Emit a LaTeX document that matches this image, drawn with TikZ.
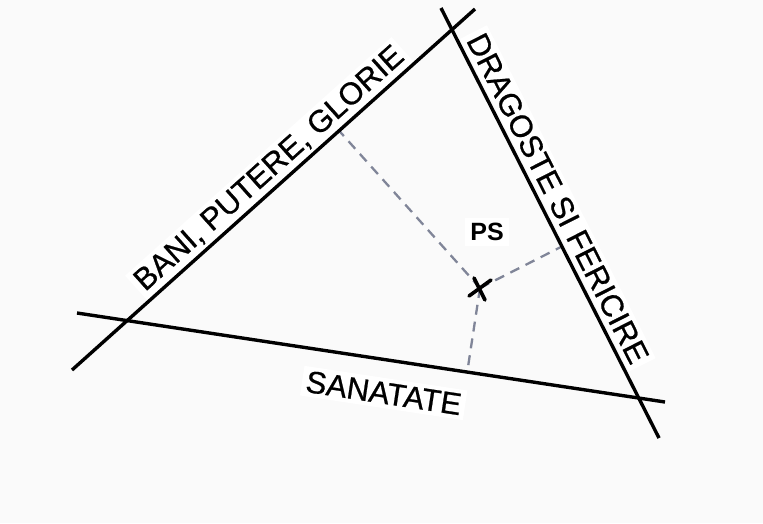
\documentclass[tikz,border=0pt]{standalone}
\usepackage{fontspec}
\setmainfont{Liberation Sans}
\newfontfamily\lblfont[FakeBold=0.7]{Liberation Sans}
\usetikzlibrary{calc}
\definecolor{bgc}{RGB}{250,250,250}
\definecolor{dashc}{RGB}{128,133,152}
\tikzset{
 mainline/.style={line width=3.4pt, black},
 perpline/.style={line width=2.3pt, dashc, dash pattern=on 10pt off 7pt},
 lbl/.style={font=\lblfont\fontsize{31}{36}\selectfont, inner sep=4pt, fill=white, sloped},
 crossmark/.style={line width=3.6pt, black, line cap=round},
 pslabel/.style={font=\bfseries\fontsize{25}{29}\selectfont, fill=white, inner sep=5pt},
}
\begin{document}
\begin{tikzpicture}[x=1pt,y=-1pt]
\fill[bgc] (0,0) rectangle (763,523);
\useasboundingbox (0,0) rectangle (763,523);
\coordinate (A1) at (72,370);
\coordinate (A2) at (475,9);
\coordinate (B1) at (441,8);
\coordinate (B2) at (659,438);
\coordinate (C1) at (77,313);
\coordinate (C2) at (665,402);
\coordinate (X) at (480,288);
% labels
\path (A1) -- (A2) node[lbl, pos=0.52, above, yshift=1pt] (la) {BANI, PUTERE, GLORIE};
\path (B1) -- (B2) node[lbl, pos=0.462, above, yshift=3pt] (lb) {DRAGOSTE SI FERICIRE};
\path (C1) -- (C2) node[lbl, pos=0.53, below, yshift=-18pt] (lc) {SANATATE};
\node[pslabel] (ps) at (487,232) {PS};
% perpendicular feet
\coordinate (FA) at ($(A1)!(X)!(A2)$);
\coordinate (FB) at ($(B1)!(X)!(B2)$);
\coordinate (FC) at ($(C1)!(X)!(C2)$);
\draw[perpline] (X) -- (FA);
\draw[perpline] (X) -- (FB);
\draw[perpline] (X) -- (FC);
% main lines
\draw[mainline] (A1) -- (A2);
\draw[mainline] (B1) -- (B2);
\draw[mainline] (C1) -- (C2);
% cross mark
\draw[crossmark] ($(X)+(-11,8)$) -- ($(X)+(11,-8)$);
\draw[crossmark] ($(X)+(-6,-10)$) -- ($(X)+(5,12)$);
\end{tikzpicture}
\end{document}
